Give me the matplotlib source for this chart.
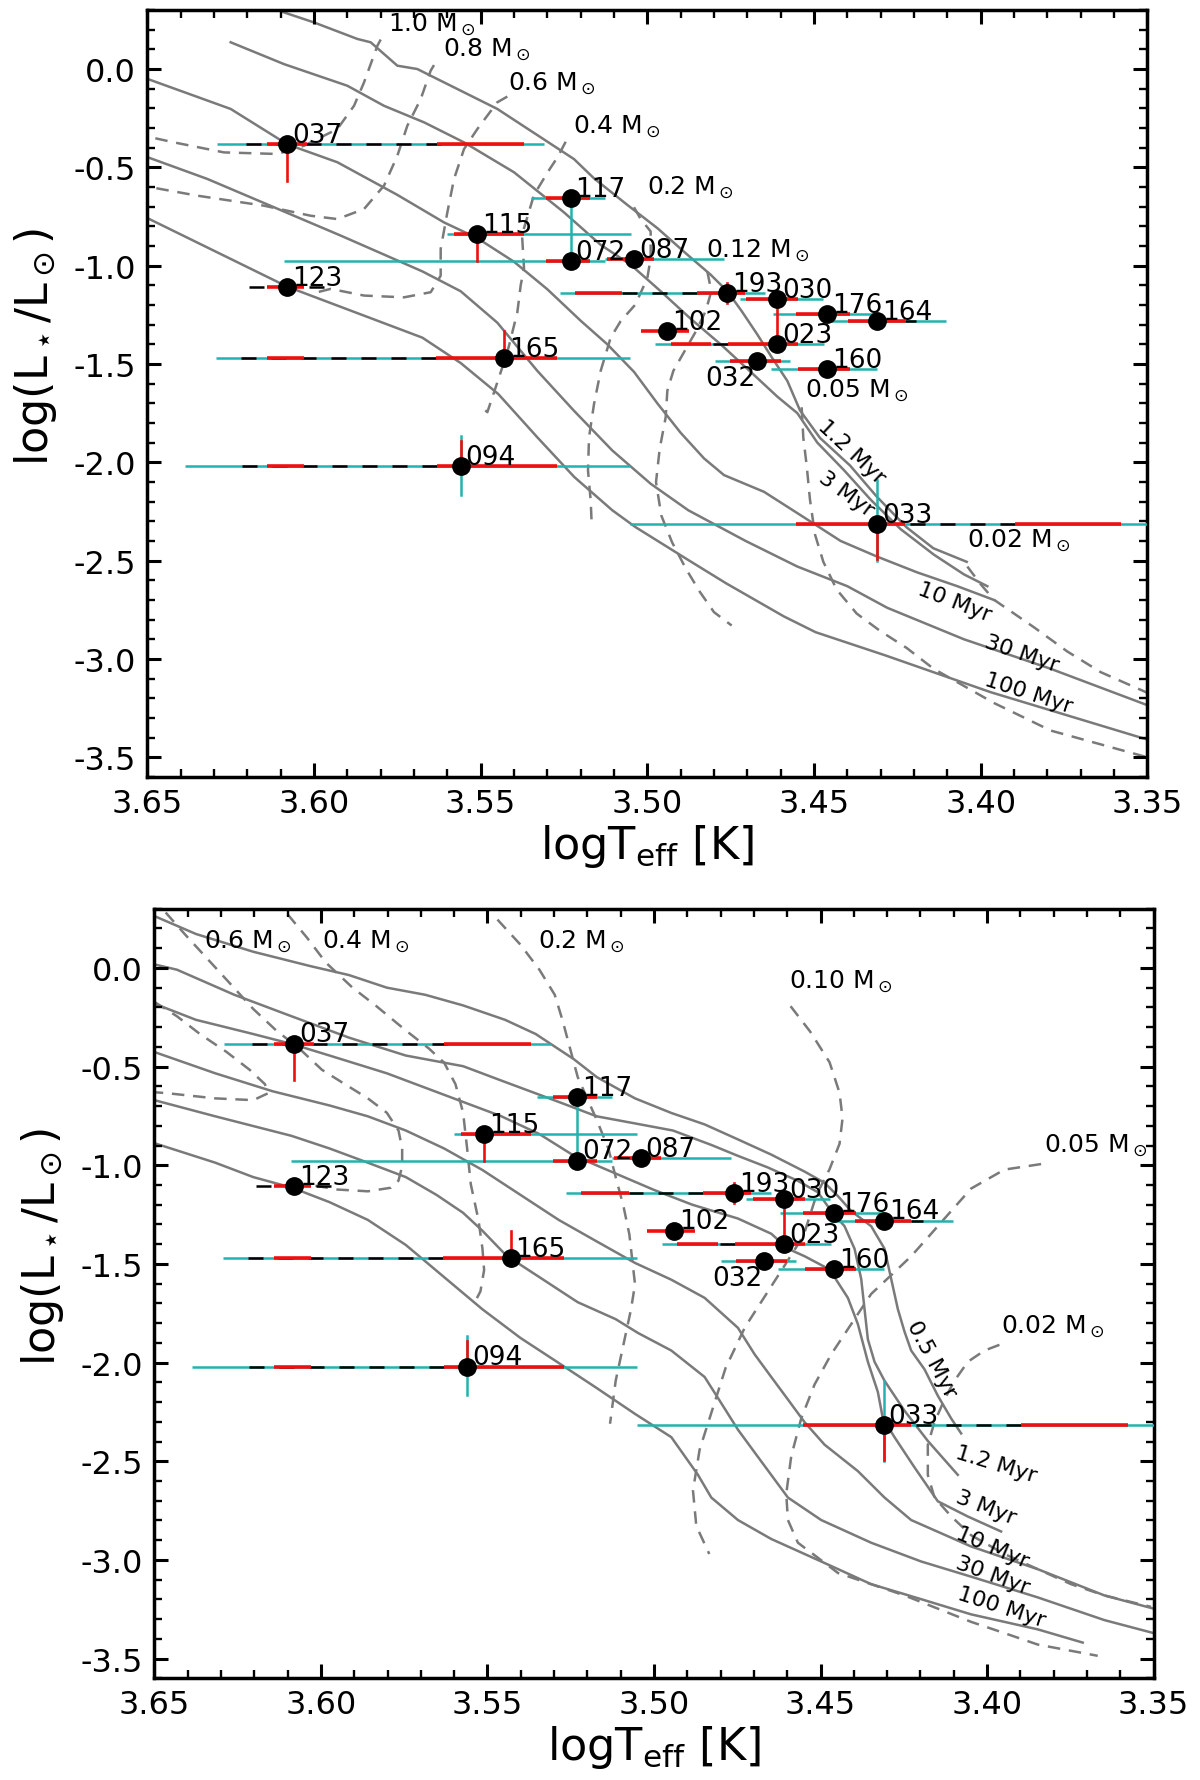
import matplotlib
matplotlib.use("Agg")
import matplotlib.pyplot as plt
import numpy as np
from matplotlib.ticker import MultipleLocator, FormatStrFormatter

plt.rcParams['axes.unicode_minus'] = False
plt.rcParams['font.family'] = ['DejaVu Sans']
plt.rcParams['mathtext.fontset'] = 'dejavusans'

# ---------------- stars (same in both panels) ----------------
names = ['037', '117', '115', '072', '087', '123', '193', '030', '176', '164',
         '102', '023', '165', '032', '160', '094', '033']
logT = [3.608, 3.523, 3.551, 3.523, 3.504, 3.608, 3.476, 3.461, 3.446, 3.431,
        3.494, 3.461, 3.543, 3.467, 3.446, 3.556, 3.431]
logL = [-0.383, -0.654, -0.840, -0.976, -0.965, -1.107, -1.141, -1.172, -1.244, -1.280,
        -1.331, -1.398, -1.469, -1.483, -1.527, -2.020, -2.316]
nan = float('nan')
# horizontal (temperature) error ranges
cyan_T = [(3.531, 3.629), (3.5126, 3.535), (3.505, 3.560), (3.5126, 3.609), (3.477, 3.5126),
          (nan, nan), (3.4648, 3.5263), (3.4473, 3.4723), (3.4313, 3.4623), (3.4103, 3.4473),
          (nan, nan), (3.447, 3.4976), (3.5052, 3.6294), (3.4573, 3.4798), (3.4311, 3.4628),
          (3.5052, 3.6386), (3.35, 3.5052)]
black_T = [(3.562, 3.624), (nan, nan), (nan, nan), (nan, nan), (nan, nan),
           (3.597, 3.624), (3.4852, 3.5075), (nan, nan), (nan, nan), (3.4193, 3.4228),
           (nan, nan), (3.4758, 3.4808), (3.5634, 3.6237), (nan, nan), (nan, nan),
           (3.563, 3.6237), (3.3898, 3.4228)]
red1_T = [(3.602, 3.614), (3.5172, 3.5304), (3.537, 3.558), (3.5172, 3.5304), (3.498, 3.512),
          (3.603, 3.614), (3.5075, 3.5218), (3.4548, 3.4703), (3.4393, 3.4553), (3.4228, 3.4398),
          (3.4876, 3.502), (3.4808, 3.493), (3.603, 3.614), (3.460, 3.4753), (3.4393, 3.4548),
          (3.603, 3.614), (3.4228, 3.4553)]
red2_T = [(3.537, 3.563), (nan, nan), (nan, nan), (nan, nan), (nan, nan),
          (nan, nan), (3.4708, 3.4852), (nan, nan), (nan, nan), (nan, nan),
          (nan, nan), (3.4548, 3.4758), (3.527, 3.5634), (nan, nan), (nan, nan),
          (3.527, 3.563), (3.3578, 3.3898)]
# vertical (luminosity) error ranges
cyan_L = [(nan, nan), (-0.976, -0.654), (-0.840, -0.806), (-1.000, -0.950), (-1.000, -0.930),
          (nan, nan), (nan, nan), (-1.190, -1.150), (-1.265, -1.230), (-1.300, -1.260),
          (nan, nan), (-1.430, -1.398), (-1.510, -1.469), (nan, nan), (-1.550, -1.500),
          (-2.165, -1.866), (-2.500, -2.092)]
red_L = [(-0.567, -0.360), (nan, nan), (-0.978, -0.806), (nan, nan), (nan, nan),
         (nan, nan), (-1.190, -1.089), (-1.398, -1.172), (nan, nan), (nan, nan),
         (nan, nan), (nan, nan), (-1.469, -1.332), (nan, nan), (nan, nan),
         (-2.020, -1.893), (-2.493, -2.316)]

# ---------------- top panel model curves ----------------
top_iso_T = {
    '1.2': [3.612, 3.609, 3.600, 3.587, 3.583, 3.575, 3.569, 3.565, 3.545, 3.522, 3.516, 3.506,
            3.497, 3.488, 3.481, 3.476, 3.4717, 3.467, 3.4626, 3.458, 3.4542, 3.4482, 3.4392,
            3.4312, 3.4222, 3.4142, 3.4042],
    '3': [3.625, 3.609, 3.590, 3.579, 3.567, 3.555, 3.540, 3.525, 3.514, 3.505, 3.496, 3.487,
          3.478, 3.469, 3.461, 3.455, 3.449, 3.441, 3.433, 3.424, 3.414, 3.405, 3.398],
    '10': [3.650, 3.625, 3.608, 3.593, 3.575, 3.561, 3.551, 3.540, 3.530, 3.520, 3.512, 3.504,
           3.497, 3.490, 3.483, 3.477, 3.465, 3.453, 3.442, 3.431, 3.419, 3.407, 3.396],
    '30': [3.650, 3.632, 3.592, 3.5675, 3.556, 3.545, 3.533, 3.522, 3.5105, 3.499, 3.4877,
           3.4705, 3.455, 3.440, 3.428, 3.405, 3.379, 3.350],
    '100': [3.650, 3.608, 3.5675, 3.556, 3.5447, 3.533, 3.5219, 3.5105, 3.5036, 3.4877, 3.4763,
            3.459, 3.4495, 3.4284, 3.397, 3.350],
}
top_iso_L = {
    '1.2': [0.31, 0.288, 0.237, 0.153, 0.136, 0.017, 0.0, -0.034, -0.203, -0.458, -0.556, -0.691,
            -0.809, -0.944, -1.046, -1.130, -1.231, -1.350, -1.468, -1.586, -1.736, -1.876, -2.016,
            -2.174, -2.331, -2.437, -2.506],
    '3': [0.136, 0.025, -0.085, -0.187, -0.271, -0.373, -0.525, -0.729, -0.894, -0.995, -1.13, -1.27,
          -1.40, -1.54, -1.666, -1.75, -1.90, -2.04, -2.19, -2.34, -2.47, -2.57, -2.63],
    '10': [-0.05, -0.203, -0.383, -0.474, -0.64, -0.78, -0.86, -0.98, -1.12, -1.28, -1.40, -1.54,
           -1.70, -1.85, -1.98, -2.065, -2.15, -2.28, -2.40, -2.48, -2.56, -2.63, -2.70],
    '30': [-0.448, -0.559, -0.847, -1.029, -1.13, -1.29, -1.535, -1.738, -1.940, -2.109, -2.244,
           -2.40, -2.53, -2.63, -2.74, -2.90, -3.05, -3.235],
    '100': [-0.758, -1.107, -1.366, -1.495, -1.653, -1.873, -2.075, -2.244, -2.329, -2.497, -2.616,
            -2.784, -2.864, -2.983, -3.169, -3.41],
}
top_trk_T = {
    '1.0': [3.580, 3.581, 3.585, 3.588, 3.593, 3.603, 3.611, 3.627, 3.642, 3.649],
    '0.8': [3.564, 3.565, 3.568, 3.572, 3.575, 3.579, 3.585, 3.593, 3.601, 3.615, 3.635, 3.649],
    '0.6': [3.542, 3.545, 3.551, 3.555, 3.558, 3.560, 3.562, 3.562, 3.565, 3.573, 3.585, 3.595, 3.599],
    '0.4': [3.5245, 3.527, 3.5298, 3.534, 3.5376, 3.537, 3.538, 3.539, 3.542, 3.546, 3.548, 3.549],
    '0.2': [3.504, 3.502, 3.499, 3.499, 3.500, 3.5036, 3.508, 3.511, 3.514, 3.516, 3.5175, 3.5178,
            3.517, 3.5167],
    '0.12': [3.482, 3.4808, 3.4825, 3.4854, 3.4888, 3.4922, 3.494, 3.4945, 3.4963, 3.4974, 3.4958,
             3.4926, 3.4884, 3.4842, 3.480, 3.4747],
    '0.05': [3.4537, 3.4532, 3.4522, 3.4512, 3.4497, 3.4472, 3.4432, 3.4372, 3.4302, 3.4222, 3.4142,
             3.396, 3.379, 3.350],
    '0.02': [3.404, 3.400, 3.396, 3.384, 3.374, 3.364, 3.350],
}
top_trk_L = {
    '1.0': [0.15, 0.118, -0.068, -0.187, -0.305, -0.390, -0.432, -0.424, -0.373, -0.347],
    '0.8': [0.02, -0.008, -0.153, -0.288, -0.441, -0.593, -0.712, -0.763, -0.746, -0.695, -0.644, -0.601],
    '0.6': [-0.14, -0.169, -0.305, -0.407, -0.559, -0.729, -0.915, -1.051, -1.135, -1.161, -1.152,
            -1.118, -1.135],
    '0.4': [-0.37, -0.45, -0.522, -0.640, -0.843, -1.012, -1.10, -1.237, -1.44, -1.644, -1.745, -1.73],
    '0.2': [-0.703, -0.763, -0.826, -0.961, -1.063, -1.198, -1.282, -1.366, -1.535, -1.704, -1.873,
            -2.042, -2.194, -2.312],
    '0.12': [-1.03, -1.130, -1.231, -1.333, -1.434, -1.535, -1.636, -1.771, -1.932, -2.101, -2.271,
             -2.406, -2.542, -2.66, -2.762, -2.830],
    '0.05': [-1.72, -1.876, -2.016, -2.191, -2.367, -2.506, -2.647, -2.769, -2.857, -2.944, -3.049,
             -3.224, -3.364, -3.50],
    '0.02': [-2.53, -2.62, -2.699, -2.839, -2.962, -3.067, -3.172],
}
top_mass_labels = ['1.0', '0.8', '0.6', '0.4', '0.2', '0.12', '0.05', '0.02']
top_mass_label_T = [3.5777, 3.5612, 3.5417, 3.5224, 3.5002, 3.4825, 3.4527, 3.4042]
top_mass_label_L = [0.229, 0.102, -0.068, -0.29, -0.598, -0.919, -1.631, -2.393]
top_age_labels = ['1.2 Myr', '3 Myr', '10 Myr', '30 Myr', '100 Myr']
top_age_label_T = [3.4387, 3.4402, 3.4077, 3.3877, 3.3857]
top_age_label_L = [-1.946, -2.157, -2.708, -2.970, -3.172]
top_age_label_rot = [-43, -36, -21, -19, -18]

# ---------------- bottom panel model curves ----------------
bot_iso_T = {
    '0.5': [3.650, 3.6375, 3.6203, 3.6031, 3.5916, 3.5802, 3.5687, 3.5573, 3.5447, 3.5355, 3.5241,
            3.5172, 3.5057, 3.4948, 3.4848, 3.4748, 3.4648, 3.4548, 3.4488, 3.4448, 3.4408, 3.4348,
            3.4308, 3.4288, 3.4268, 3.4248, 3.4228, 3.4188, 3.4148, 3.4108, 3.4078],
    '1.2': [3.650, 3.6432, 3.626, 3.6088, 3.5916, 3.5745, 3.5573, 3.5458, 3.5286, 3.5172, 3.5057,
            3.4943, 3.4828, 3.475, 3.466, 3.4568, 3.4508, 3.4468, 3.4428, 3.4398, 3.4378, 3.4368,
            3.4358, 3.4338, 3.4308, 3.4248, 3.4178, 3.4088],
    '3': [3.650, 3.6375, 3.6203, 3.6086, 3.5974, 3.5802, 3.563, 3.5458, 3.5344, 3.5241, 3.5115,
          3.500, 3.4885, 3.4748, 3.4648, 3.4598, 3.4548, 3.4473, 3.4418, 3.4388, 3.4358, 3.4328,
          3.4313, 3.4278, 3.4218, 3.4148, 3.4058, 3.3958],
    '10': [3.650, 3.6317, 3.6145, 3.5974, 3.5859, 3.5745, 3.563, 3.5515, 3.5401, 3.5286, 3.5172,
           3.5057, 3.4948, 3.4848, 3.4748, 3.4698, 3.4648, 3.4598, 3.4548, 3.4488, 3.4388, 3.4308,
           3.4228, 3.4048, 3.3848, 3.3648, 3.350],
    '30': [3.650, 3.6317, 3.6088, 3.5974, 3.5859, 3.5745, 3.5653, 3.5573, 3.5515, 3.5443, 3.5344,
           3.5229, 3.5115, 3.5048, 3.4948, 3.4848, 3.4798, 3.4748, 3.4698, 3.4598, 3.4498, 3.4348,
           3.4198, 3.4048, 3.3848, 3.3648, 3.350],
    '100': [3.650, 3.6317, 3.6203, 3.6086, 3.5974, 3.5859, 3.5745, 3.563, 3.5515, 3.5401, 3.5286,
            3.5172, 3.5057, 3.4948, 3.4868, 3.4828, 3.4748, 3.4648, 3.4498, 3.4348, 3.4198, 3.4048,
            3.3848, 3.3713],
}
bot_iso_L = {
    '0.5': [0.263, 0.172, 0.082, 0.009, -0.036, -0.100, -0.136, -0.190, -0.263, -0.335, -0.462,
            -0.553, -0.661, -0.735, -0.793, -0.869, -0.946, -1.032, -1.089, -1.156, -1.232, -1.309,
            -1.423, -1.576, -1.729, -1.843, -1.939, -2.034, -2.168, -2.283, -2.359],
    '1.2': [0.018, -0.009, -0.136, -0.245, -0.353, -0.444, -0.498, -0.571, -0.679, -0.752, -0.788,
            -0.824, -0.897, -0.951, -1.01, -1.079, -1.137, -1.232, -1.309, -1.423, -1.576, -1.729,
            -1.882, -1.996, -2.092, -2.244, -2.397, -2.569],
    '3': [-0.181, -0.263, -0.335, -0.386, -0.444, -0.534, -0.643, -0.752, -0.842, -0.951, -1.042,
          -1.125, -1.20, -1.27, -1.347, -1.423, -1.461, -1.528, -1.672, -1.805, -1.996, -2.149,
          -2.283, -2.378, -2.531, -2.703, -2.78, -2.856],
    '10': [-0.426, -0.534, -0.625, -0.697, -0.752, -0.824, -0.915, -1.024, -1.150, -1.277, -1.386,
           -1.495, -1.58, -1.672, -1.824, -1.958, -2.073, -2.187, -2.302, -2.416, -2.550, -2.684,
           -2.798, -2.932, -3.047, -3.180, -3.247],
    '30': [-0.670, -0.752, -0.851, -0.915, -0.987, -1.060, -1.150, -1.241, -1.332, -1.458, -1.567,
           -1.694, -1.78, -1.85, -1.939, -2.073, -2.206, -2.340, -2.455, -2.684, -2.798, -2.913,
           -3.008, -3.085, -3.19, -3.305, -3.371],
    '100': [-0.888, -0.987, -1.060, -1.114, -1.187, -1.277, -1.404, -1.567, -1.730, -1.875, -2.002,
            -2.129, -2.26, -2.378, -2.569, -2.684, -2.798, -2.894, -3.008, -3.123, -3.199, -3.276,
            -3.352, -3.419],
}
bot_trk_T = {
    '0.8': [3.650, 3.6432, 3.6363, 3.6283, 3.6214, 3.6168, 3.6157, 3.6203, 3.6317, 3.6466, 3.650],
    '0.6': [3.6466, 3.6409, 3.634, 3.6271, 3.6203, 3.6134, 3.6065, 3.5997, 3.5928, 3.5859, 3.5802,
            3.5767, 3.5756, 3.5756, 3.5767, 3.579, 3.5859, 3.5951, 3.6042],
    '0.4': [3.610, 3.6042, 3.5985, 3.5905, 3.5836, 3.5745, 3.5676, 3.563, 3.5596, 3.5573, 3.5561,
            3.555, 3.5527, 3.5515, 3.551, 3.5521, 3.5538],
    '0.2': [3.547, 3.5401, 3.5344, 3.5298, 3.5275, 3.5252, 3.5229, 3.5172, 3.5137, 3.5115, 3.5092,
            3.5074, 3.5057, 3.5069, 3.5092, 3.5115, 3.5132],
    '0.10': [3.459, 3.4531, 3.4473, 3.4443, 3.4434, 3.4443, 3.4473, 3.4512, 3.4551, 3.4609, 3.4668,
             3.4727, 3.4785, 3.4824, 3.4863, 3.4883, 3.4873, 3.4834],
    '0.05': [3.3838, 3.3948, 3.4048, 3.4108, 3.4168, 3.4228, 3.4288, 3.4348, 3.4408, 3.4468, 3.4518,
             3.4558, 3.4588, 3.4603, 3.4598, 3.4568, 3.4508, 3.4448, 3.4348, 3.4248, 3.4148, 3.4048,
             3.3948, 3.3848, 3.3668],
    '0.02': [3.3963, 3.4008, 3.4058, 3.4098, 3.4128, 3.4158, 3.4178, 3.4178, 3.4158, 3.4108, 3.4048,
             3.3948, 3.3848, 3.3748, 3.3648, 3.3508],
}
bot_trk_L = {
    '0.8': [-0.172, -0.245, -0.335, -0.426, -0.516, -0.589, -0.634, -0.670, -0.661, -0.634, -0.63],
    '0.6': [0.281, 0.172, 0.045, -0.082, -0.208, -0.317, -0.408, -0.516, -0.589, -0.661, -0.734,
            -0.824, -0.915, -1.005, -1.078, -1.114, -1.132, -1.123, -1.096],
    '0.4': [0.272, 0.154, 0.027, -0.100, -0.190, -0.317, -0.408, -0.480, -0.589, -0.734, -0.915,
            -1.096, -1.277, -1.422, -1.531, -1.639, -1.694],
    '0.2': [0.245, 0.118, -0.009, -0.136, -0.263, -0.408, -0.553, -0.770, -0.915, -1.060, -1.205,
            -1.350, -1.603, -1.730, -1.911, -2.092, -2.310],
    '0.10': [-0.194, -0.323, -0.478, -0.633, -0.762, -0.891, -1.020, -1.149, -1.356, -1.511, -1.666,
             -1.821, -2.027, -2.234, -2.441, -2.648, -2.828, -2.970],
    '0.05': [-0.994, -1.022, -1.118, -1.232, -1.347, -1.461, -1.557, -1.652, -1.805, -1.958, -2.111,
             -2.283, -2.474, -2.665, -2.798, -2.913, -2.989, -3.066, -3.123, -3.180, -3.247, -3.314,
             -3.371, -3.429, -3.486],
    '0.02': [-1.910, -1.939, -1.996, -2.092, -2.187, -2.302, -2.416, -2.569, -2.684, -2.779, -2.875,
             -2.970, -3.047, -3.123, -3.180, -3.238],
}
bot_mass_labels = ['0.6', '0.4', '0.2', '0.10', '0.05', '0.02']
bot_mass_label_T = [3.6352, 3.5997, 3.5349, 3.4596, 3.3828, 3.3958]
bot_mass_label_L = [0.136, 0.136, 0.136, -0.065, -0.898, -1.815]
bot_age_labels = ['0.5 Myr', '1.2 Myr', '3 Myr', '10 Myr', '30 Myr', '100 Myr']
bot_age_label_T = [3.4168, 3.3973, 3.4003, 3.3983, 3.3983, 3.3958]
bot_age_label_L = [-1.977, -2.512, -2.731, -2.932, -3.075, -3.238]
bot_age_label_rot = [-62, -17, -21, -23, -20, -18]

# ---------------- axes settings ----------------
x_limits = (3.65, 3.35)
y_limits = (-3.6, 0.3)
x_ticks = [3.65, 3.60, 3.55, 3.50, 3.45, 3.40, 3.35]
y_ticks = [0.0, -0.5, -1.0, -1.5, -2.0, -2.5, -3.0, -3.5]

GRAY = '#7a7a7a'
CYAN = '#22b2b0'
RED = '#ee1010'


def draw_panel(ax, iso_T, iso_L, trk_T, trk_L, mlab, mlab_T, mlab_L,
               alab, alab_T, alab_L, alab_rot):
    for k in iso_T:
        ax.plot(iso_T[k], iso_L[k], color=GRAY, lw=1.8, zorder=1)
    for k in trk_T:
        ax.plot(trk_T[k], trk_L[k], color=GRAY, lw=1.8, dashes=(5, 3.5), zorder=1)
    for t, x, y in zip(mlab, mlab_T, mlab_L):
        ax.text(x, y, t + r' M$_\odot$', fontsize=18, ha='left', va='center', zorder=6)
    for t, x, y, r in zip(alab, alab_T, alab_L, alab_rot):
        ax.text(x, y, t, fontsize=16, ha='center', va='center', rotation=r,
                rotation_mode='anchor', zorder=6)

    # error bars
    for i in range(len(names)):
        x, y = logT[i], logL[i]
        ax.plot(cyan_T[i], [y, y], color=CYAN, lw=1.8, zorder=3, solid_capstyle='butt')
        ax.plot(black_T[i], [y, y], color='k', lw=1.8, dashes=(6, 6), zorder=3.2)
        ax.plot(red1_T[i], [y, y], color=RED, lw=2.6, zorder=3.5, solid_capstyle='butt')
        ax.plot(red2_T[i], [y, y], color=RED, lw=2.6, zorder=3.5, solid_capstyle='butt')
        ax.plot([x, x], cyan_L[i], color=CYAN, lw=1.8, zorder=3)
        ax.plot([x, x], red_L[i], color=RED, lw=1.9, zorder=3.4)

    ax.plot(logT, logL, 'o', color='k', ms=12.5, zorder=4)
    for i, n in enumerate(names):
        if n == '032':
            ax.annotate(n, (logT[i], logL[i]), xytext=(-1, -3), textcoords='offset points',
                        ha='right', va='top', fontsize=19, zorder=7)
        else:
            ax.annotate(n, (logT[i], logL[i]), xytext=(3.5, 1.5), textcoords='offset points',
                        ha='left', va='baseline', fontsize=19, zorder=7)

    ax.set_xlim(*x_limits)
    ax.set_ylim(*y_limits)
    ax.set_xticks(x_ticks)
    ax.set_yticks(y_ticks)
    ax.xaxis.set_major_formatter(FormatStrFormatter('%.2f'))
    ax.yaxis.set_major_formatter(FormatStrFormatter('%.1f'))
    ax.xaxis.set_minor_locator(MultipleLocator(0.01))
    ax.yaxis.set_minor_locator(MultipleLocator(0.1))
    ax.tick_params(which='both', direction='in', top=True, right=True)
    ax.tick_params(which='major', length=10, width=2.2, labelsize=23, pad=8)
    ax.tick_params(which='minor', length=5.5, width=1.7)
    for s in ax.spines.values():
        s.set_linewidth(2.5)
    ax.set_xlabel(r'logT$_{\rm eff}$ [K]', fontsize=32, labelpad=2)
    ax.set_ylabel(r'log(L$_\star$/L$_\odot$)', fontsize=32)
    ax.yaxis.set_label_coords(-0.088, 0.562)


fig = plt.figure(figsize=(12, 17.81), dpi=100)
ax1 = fig.add_axes([0.1228, 0.5632, 0.8333, 0.4306])
ax2 = fig.add_axes([0.1286, 0.0571, 0.8328, 0.4321])

draw_panel(ax1, top_iso_T, top_iso_L, top_trk_T, top_trk_L,
           top_mass_labels, top_mass_label_T, top_mass_label_L,
           top_age_labels, top_age_label_T, top_age_label_L, top_age_label_rot)
draw_panel(ax2, bot_iso_T, bot_iso_L, bot_trk_T, bot_trk_L,
           bot_mass_labels, bot_mass_label_T, bot_mass_label_L,
           bot_age_labels, bot_age_label_T, bot_age_label_L, bot_age_label_rot)

fig.savefig('out.png', dpi=100)
